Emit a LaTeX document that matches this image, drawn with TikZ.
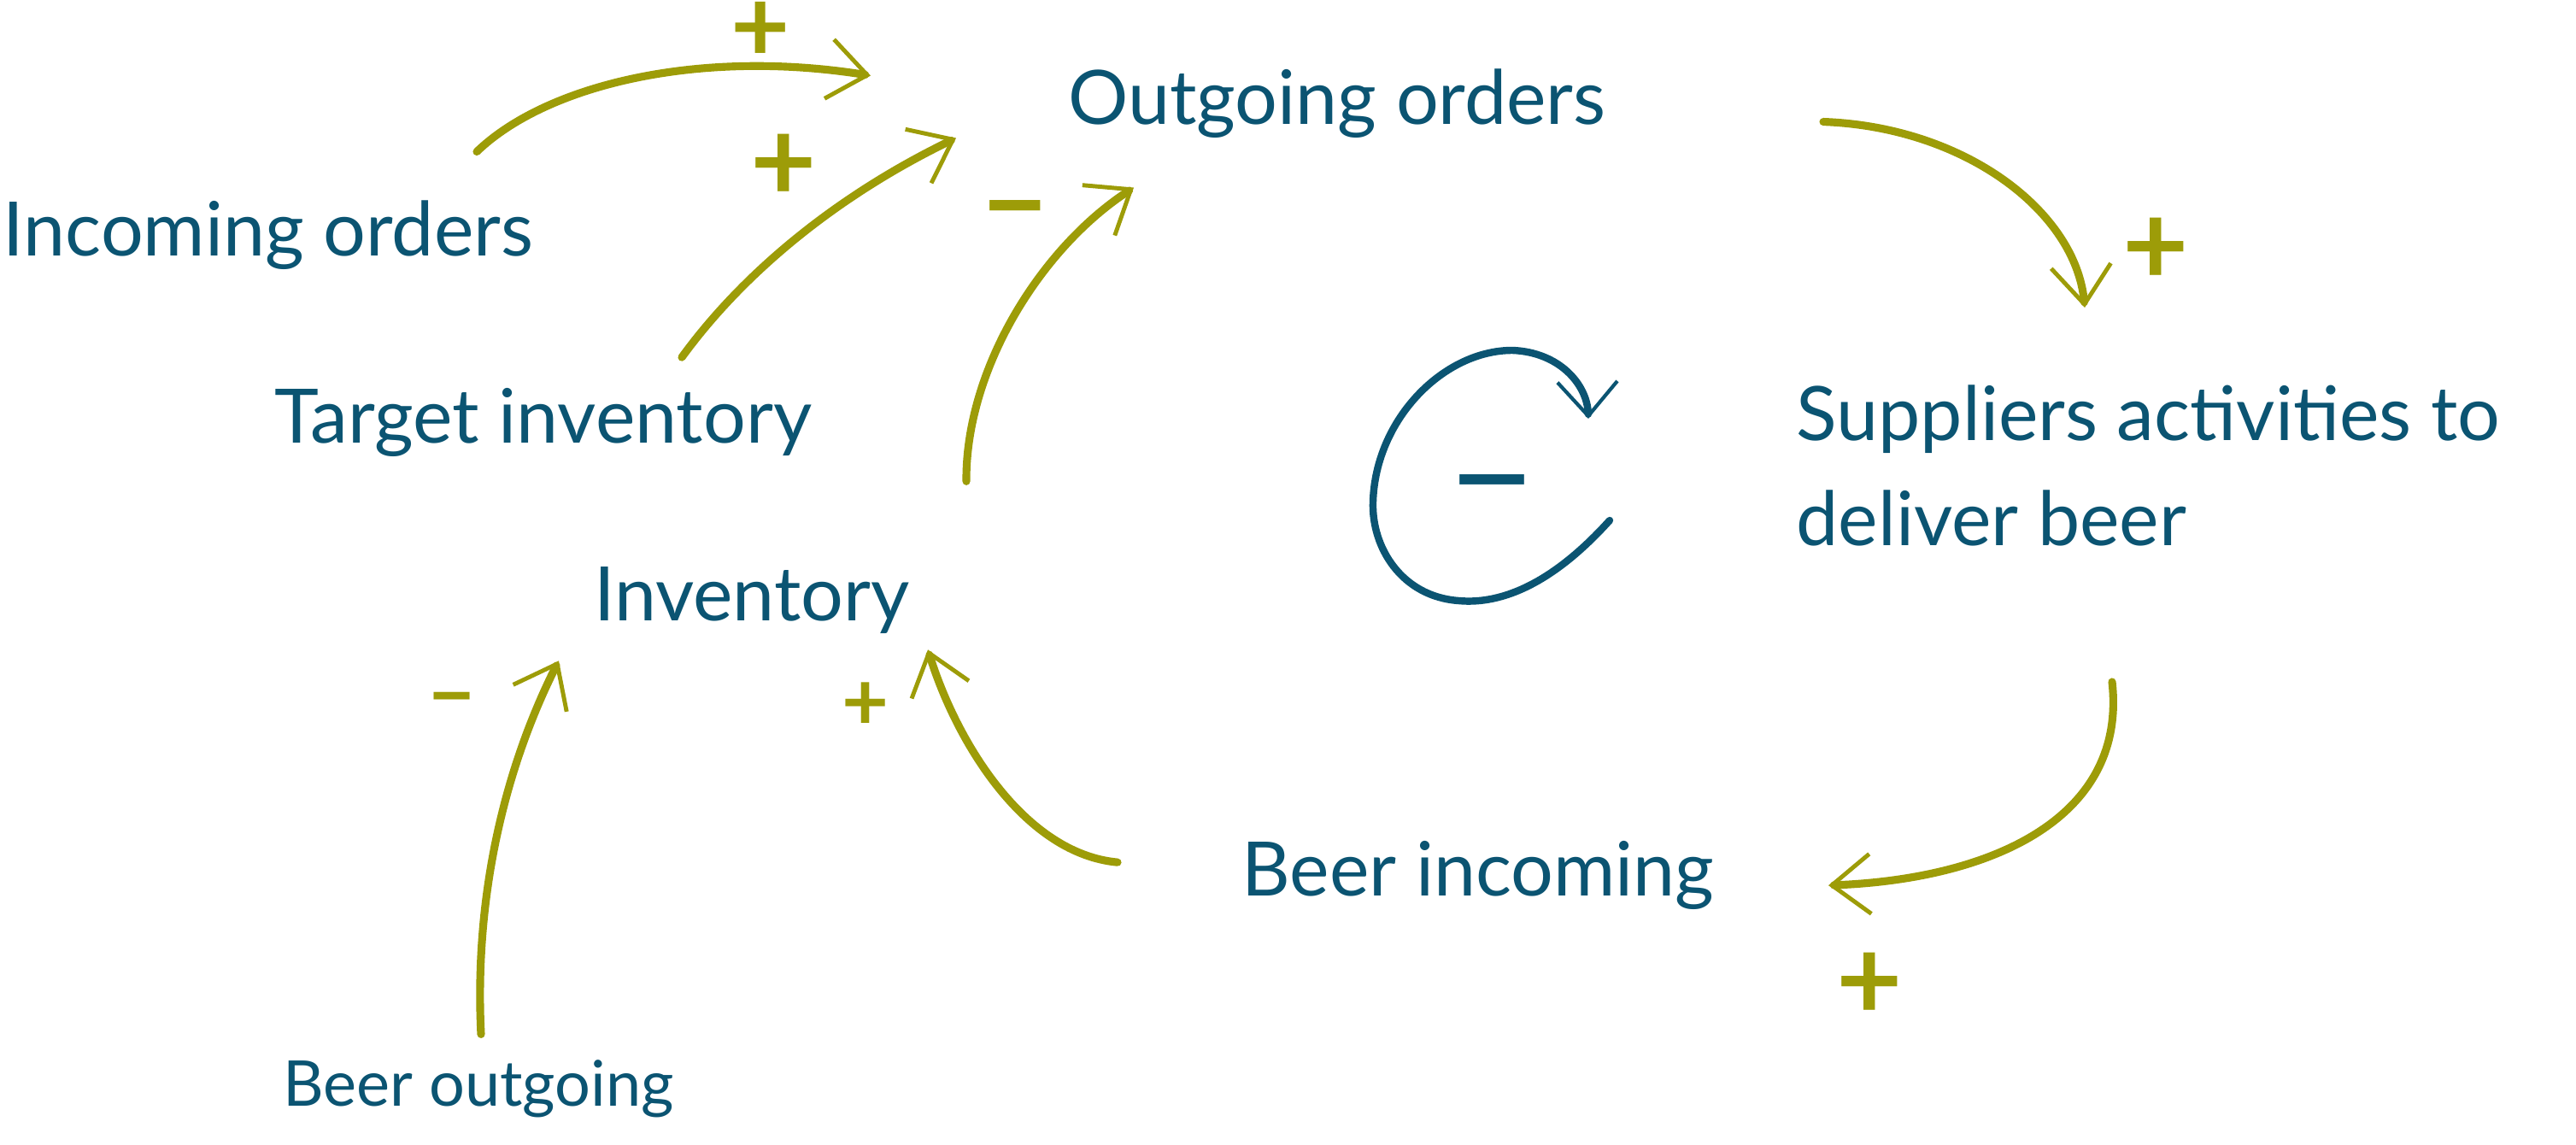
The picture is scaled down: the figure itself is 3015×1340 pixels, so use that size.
\documentclass[tikz,border=0pt]{standalone}
\usepackage{fontspec}
\setmainfont{Lato}
\usepackage{tikz}
\usetikzlibrary{arrows.meta,calc}
\definecolor{txtblue}{HTML}{0B5472}
\definecolor{linkolive}{HTML}{9D9C08}

\begin{document}
\begin{tikzpicture}[
    x=0.01cm, y=-0.01cm,
    every node/.style={inner sep=0pt},
    var/.style={text=txtblue, font=\fontsize{25}{35}\selectfont, anchor=base},
    small/.style={font=\fontsize{21}{25}\selectfont},
    sign/.style={text=linkolive, font=\fontsize{38}{38}\selectfont\bfseries},
    smallsign/.style={sign, font=\fontsize{27}{27}\selectfont\bfseries},
    link/.style={linkolive, line width=2.6pt, line cap=round,
        -{Straight Barb[length=4.5mm,width=7mm,line width=1.4pt]}}
]
\useasboundingbox (0,0) rectangle (3015,1340);

% variables
\node[var] (inc) at (314,300) {Incoming orders};
\node[var] (out) at (1565,146) {Outgoing orders};
\node[var] (tgt) at (636,519) {Target inventory};
\node[var, anchor=north west, align=left] (sup) at (2102,450) {Suppliers activities to\\deliver beer};
\node[var] (inv) at (880,727) {Inventory};
\node[var] (bin) at (1730,1048) {Beer incoming};
\node[var, small] (bout) at (560,1294) {Beer outgoing};

% links
\draw[link] ($(inc.north)+(244,-57)$) .. controls +(82,-79) and +(-199,-32) .. ($(out.north)+(-546,8)$);
\draw[link] ($(tgt.north)+(162,-36)$) .. controls +(72,-99) and +(-139,67) .. ($(out.north)+(-446,81)$);
\draw[link] ($(inv.north)+(251,-100)$) .. controls +(-1,-133) and +(-107,69) .. ($(out.north)+(-238,139)$);
\draw[link] ($(out.north)+(569,62)$) .. controls +(166,6) and +(-10,-112) .. ($(sup.north west)+(338,-90)$);
\draw[link] ($(sup.north west)+(370,348)$) .. controls +(18,160) and +(190,-7) .. ($(bin.north)+(410,53)$);
\draw[link] ($(bin.north)+(-422,26)$) .. controls +(-108,-10) and +(34,110) .. ($(inv.north)+(206,97)$);
\draw[link] ($(bout.north)+(3,-29)$) .. controls +(-8,-161) and +(-64,127) .. ($(inv.north)+(-226,110)$);

% signs
\node[sign, anchor=north, font=\fontsize{34}{34}\selectfont\bfseries] (s1) at (890,2) {+};
\node[sign] (s2) at (917,196) {+};
\node[sign] (s3) at (1188,260) {−};
\node[sign] (s4) at (2523,294) {+};
\node[sign] (s5) at (2188,1154) {+};
\node[smallsign] (s6) at (1013,827) {+};
\node[smallsign] (s7) at (529,828) {−};

% loop
\draw[txtblue, line width=2.4pt, line cap=round,
    -{Straight Barb[length=4mm,width=7mm,line width=1.2pt]}]
    (1884,609) .. controls (1820,680) and (1760,708) .. (1707,703)
    .. controls (1640,698) and (1605,640) .. (1607,587)
    .. controls (1610,490) and (1690,410) .. (1770,410)
    .. controls (1825,412) and (1858,450) .. (1859,490);
\node[text=txtblue, font=\fontsize{50}{50}\selectfont] (loopsign) at (1746,588) {−};

\end{tikzpicture}
\end{document}
